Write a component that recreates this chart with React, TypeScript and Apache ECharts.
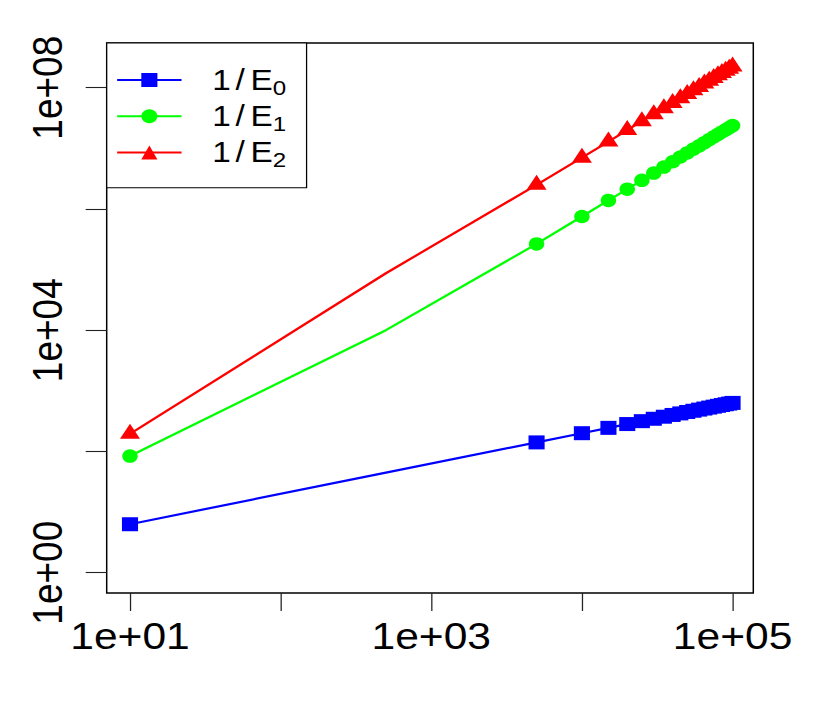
import React, { useEffect, useRef } from 'react';
import * as echarts from 'echarts';

// ---- data ----
const xValues = [10, 500, 5000, 10000, 15000, 20000, 25000, 30000, 35000, 40000, 45000, 50000,
  55000, 60000, 65000, 70000, 75000, 80000, 85000, 90000, 95000, 100000];
const unmarkedX = [500];
const e0Values = [6.3, 44.7, 141, 200, 245, 283, 316, 346, 374, 400, 424, 447, 469, 490, 510, 529,
  548, 566, 583, 600, 616, 632];
const e1Values = [84, 1.0e4, 2.65e5, 7.5e5, 1.38e6, 2.12e6, 2.96e6, 3.9e6, 4.9e6, 6.0e6, 7.2e6,
  8.4e6, 9.7e6, 1.1e7, 1.24e7, 1.39e7, 1.54e7, 1.7e7, 1.86e7, 2.02e7, 2.2e7, 2.37e7];
const e2Values = [195, 8.7e4, 2.5e6, 7.0e6, 1.29e7, 2.0e7, 2.8e7, 3.66e7, 4.6e7, 5.6e7, 6.7e7,
  7.9e7, 9.1e7, 1.03e8, 1.17e8, 1.3e8, 1.45e8, 1.6e8, 1.75e8, 1.9e8, 2.06e8, 2.23e8];
const seriesNames = ['1/E0', '1/E1', '1/E2'];
const seriesSubs = ['0', '1', '2'];
const xTickValues = [10, 100, 1000, 10000, 100000];
const xLabelValues = [10, 1000, 100000];
const yTickValues = [1, 100, 1e4, 1e6, 1e8];
const yLabelValues = [1, 1e4, 1e8];
const xRange = [7.004, 1.3731e5];
const yRange = [0.4625, 5.461e8];

// ---- layout ----
const STRETCH = 1.15;
const W = 830 / STRETCH;
const H = 706;
const FONT = '"Liberation Sans", Arial, Helvetica, sans-serif';
const LH = 37;

function fmtExp(v: number): string {
  const e = Math.round(Math.log10(v));
  return '1e' + (e < 0 ? '-' : '+') + String(Math.abs(e)).padStart(2, '0');
}

function buildData(ys: number[]) {
  return xValues.map((x, i) =>
    unmarkedX.includes(x) ? { value: [x, ys[i]], symbol: 'none' } : [x, ys[i]]
  );
}

export default function App() {
  const ref = useRef<HTMLDivElement>(null);

  useEffect(() => {
    document.body.style.margin = '0';
    const chart = echarts.init(ref.current!, null, { renderer: 'svg' });
    const tickStyle = { color: '#222', width: 1.1 };
    const labelBase = { color: '#000', fontSize: 37, fontFamily: FONT };
    chart.setOption({
      animation: false,
      backgroundColor: '#fff',
      grid: {
        left: 92.78, right: W - 654.78, top: 43, bottom: H - 593,
        show: true, borderColor: '#000', borderWidth: 1.3, backgroundColor: 'transparent',
        containLabel: false, outerBoundsMode: 'none',
      },
      legend: {
        orient: 'vertical',
        left: 92.78, top: 43,
        padding: [18.5, 17.8, 16.6, 8.1],
        itemWidth: 56, itemHeight: 17.5, itemGap: -0.7,
        borderColor: '#000', borderWidth: 1.1, borderRadius: 0,
        backgroundColor: '#fff',
        selectedMode: false,
        data: seriesNames,
        formatter: (name: string) => {
          const sub = seriesSubs[seriesNames.indexOf(name)];
          return `{one|1}{sl|/}{e|E}{sub|${sub}}`;
        },
        textStyle: {
          color: '#000', fontSize: 29, fontFamily: FONT, lineHeight: LH,
          rich: {
            one: { fontSize: 29, fontFamily: FONT, lineHeight: LH, padding: [0, 4, 0, 21.7] },
            sl: { fontSize: 29, fontFamily: FONT, lineHeight: LH, padding: [0, 5, 0, 0] },
            e: { fontSize: 29, fontFamily: FONT, lineHeight: LH },
            sub: {
              fontSize: 21, fontFamily: FONT, lineHeight: 21,
              verticalAlign: 'top', padding: [LH / 2 - 2.73, 0, 0, 0],
            },
          },
        },
      },
      xAxis: {
        type: 'log', logBase: 10, min: xRange[0], max: xRange[1],
        axisLine: { show: false },
        splitLine: { show: false },
        minorTick: { show: false },
        axisTick: { show: true, customValues: xTickValues, length: 18, lineStyle: tickStyle },
        axisLabel: { ...labelBase, customValues: xLabelValues, formatter: fmtExp, margin: 25 },
      },
      yAxis: {
        type: 'log', logBase: 10, min: yRange[0], max: yRange[1],
        axisLine: { show: false },
        splitLine: { show: false },
        minorTick: { show: false },
        axisTick: { show: true, customValues: yTickValues, length: 18.3, lineStyle: tickStyle },
        axisLabel: { ...labelBase, customValues: yLabelValues, formatter: fmtExp, margin: 33, rotate: 90 },
      },
      series: [
        {
          name: seriesNames[0], type: 'line', data: buildData(e0Values),
          symbol: 'rect', symbolSize: 14, showSymbol: true,
          lineStyle: { color: '#0000ff', width: 2.2 }, itemStyle: { color: '#0000ff' },
          emphasis: { disabled: true },
        },
        {
          name: seriesNames[1], type: 'line', data: buildData(e1Values),
          symbol: 'circle', symbolSize: 13.5, showSymbol: true,
          lineStyle: { color: '#00ff00', width: 2.2 }, itemStyle: { color: '#00ff00' },
          emphasis: { disabled: true },
        },
        {
          name: seriesNames[2], type: 'line', data: buildData(e2Values),
          symbol: 'triangle', symbolSize: [17.4, 15], symbolOffset: [0, -2.5], showSymbol: true,
          lineStyle: { color: '#ff0000', width: 2.2 }, itemStyle: { color: '#ff0000' },
          emphasis: { disabled: true },
        },
      ],
    });
    return () => chart.dispose();
  }, []);

  return (
    <div
      ref={ref}
      style={{
        width: W, height: H,
        transform: `scaleX(${STRETCH})`, transformOrigin: '0 0',
      }}
    />
  );
}
